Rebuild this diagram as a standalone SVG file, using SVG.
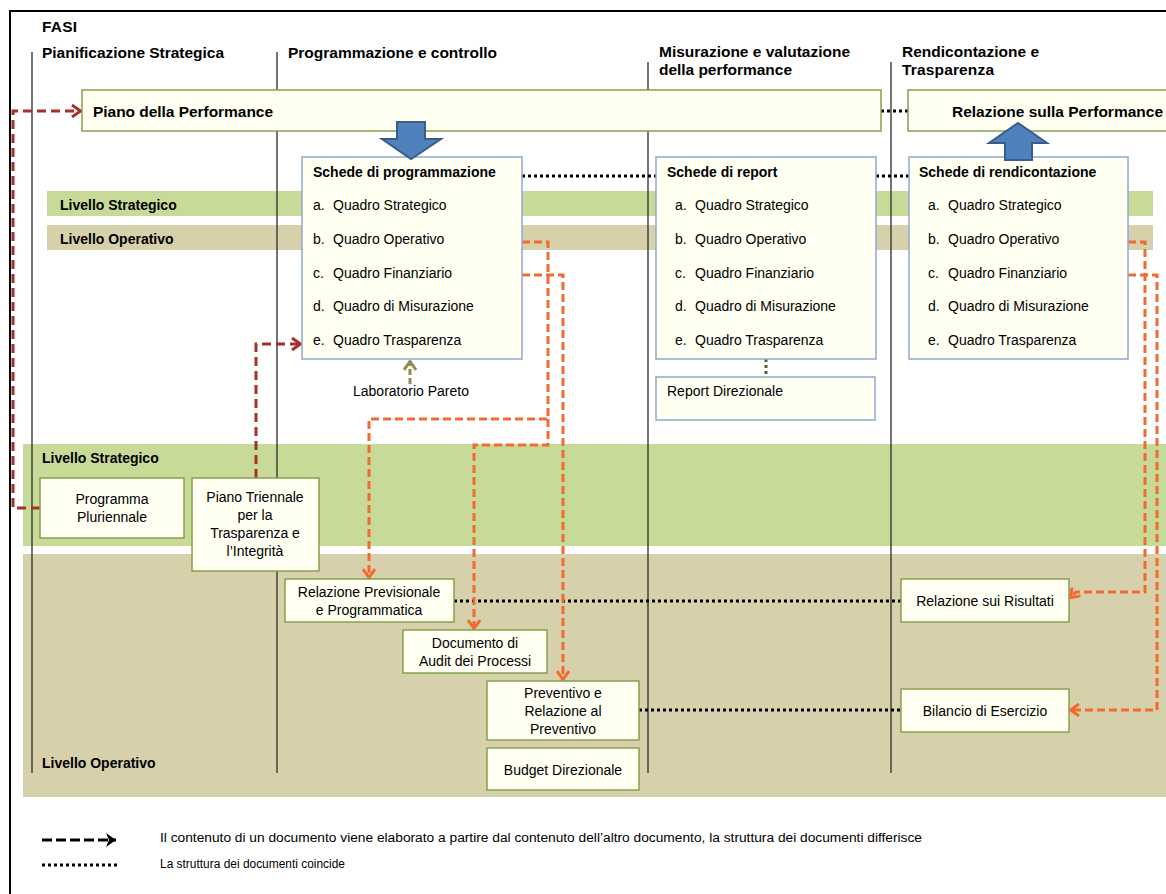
<svg xmlns="http://www.w3.org/2000/svg" width="1166" height="894" viewBox="0 0 1166 894">
  <style>
    .h { font-family: "Liberation Sans", Arial, sans-serif; font-weight: bold; font-size: 15.5px; fill: #000; }
    .b { font-family: "Liberation Sans", Arial, sans-serif; font-weight: bold; font-size: 14px; fill: #000; }
    .t { font-family: "Liberation Sans", Arial, sans-serif; font-size: 14px; fill: #000; }
    .c { text-anchor: middle; }
    .lg { font-family: "Liberation Sans", Arial, sans-serif; font-size: 12.5px; fill: #000; }
    .doc { fill: #FFFFF2; stroke: #86A04E; stroke-width: 1.5; }
    .card { fill: #FFFFF2; stroke: #8EA9D1; stroke-width: 1.5; }
    .phase { stroke: #2a2a2a; stroke-width: 1.3; }
    .dot { fill: none; stroke: #000; stroke-width: 3; stroke-dasharray: 3 3; }
    .red { fill: none; stroke: #A5312B; stroke-width: 3; stroke-dasharray: 9 5; }
    .ora { fill: none; stroke: #F26A30; stroke-width: 3; stroke-dasharray: 8 4; }
    .blk { fill: #4F81BD; stroke: #385D8A; stroke-width: 2; }
  </style>
  <defs>
    <marker id="ahRed" markerUnits="userSpaceOnUse" viewBox="0 0 12 14" refX="11" refY="7" markerWidth="12" markerHeight="14" orient="auto">
      <path d="M2,1 L10.5,7 L2,13" fill="none" stroke="#A5312B" stroke-width="3"/>
    </marker>
    <marker id="ahOra" markerUnits="userSpaceOnUse" viewBox="0 0 12 14" refX="11" refY="7" markerWidth="12" markerHeight="14" orient="auto">
      <path d="M2,1 L10.5,7 L2,13" fill="none" stroke="#F26A30" stroke-width="3"/>
    </marker>
    <marker id="ahKhaki" markerUnits="userSpaceOnUse" viewBox="0 0 12 14" refX="11" refY="7" markerWidth="12" markerHeight="14" orient="auto">
      <path d="M2,1 L10.5,7 L2,13" fill="none" stroke="#948A54" stroke-width="3"/>
    </marker>
    <marker id="ahBlack" markerUnits="userSpaceOnUse" viewBox="0 0 12 16" refX="11" refY="8" markerWidth="12" markerHeight="16" orient="auto">
      <path d="M1,1 L11,8 L1,15 L4,8 Z" fill="#000"/>
    </marker>
  </defs>

  <rect x="0" y="0" width="1166" height="894" fill="#fff"/>
  <!-- frame -->
  <rect x="10" y="11" width="1200" height="1000" fill="none" stroke="#000" stroke-width="2"/>

  <!-- level bands -->
  <g id="bands">
    <rect x="47" y="191" width="1106" height="25" fill="#C8DA98"/>
    <rect x="47" y="225" width="1106" height="25" fill="#D7D1AB"/>
    <rect x="23" y="444" width="1150" height="102" fill="#C8DA98"/>
    <rect x="23" y="554" width="1150" height="243" fill="#D7D1AB"/>
    <text class="b" x="60" y="210">Livello Strategico</text>
    <text class="b" x="60" y="244">Livello Operativo</text>
    <text class="b" x="42" y="463">Livello Strategico</text>
    <text class="b" x="42" y="768">Livello Operativo</text>
  </g>

  <!-- phase columns -->
  <g id="phases">
    <line class="phase" x1="32" y1="52" x2="32" y2="773"/>
    <line class="phase" x1="277" y1="52" x2="277" y2="773"/>
    <line class="phase" x1="648" y1="62" x2="648" y2="773"/>
    <line class="phase" x1="891" y1="62" x2="891" y2="773"/>
    <text class="h" x="42" y="32" textLength="35">FASI</text>
    <text class="h" x="42" y="58" textLength="182">Pianificazione Strategica</text>
    <text class="h" x="288" y="58" textLength="209">Programmazione e controllo</text>
    <text class="h" x="659" y="57" textLength="191">Misurazione e valutazione</text>
    <text class="h" x="659" y="75" textLength="133">della performance</text>
    <text class="h" x="902" y="57" textLength="137">Rendicontazione e</text>
    <text class="h" x="902" y="75" textLength="92">Trasparenza</text>
  </g>

  <!-- connectors -->
  <g id="connectors">
    <path class="dot" d="M881,111 H908"/>
    <path class="dot" d="M522,176 H656"/>
    <path class="dot" d="M876,176 H909"/>
    <path class="dot" d="M454,601 H901"/>
    <path class="dot" d="M639,710 H901"/>
    <path d="M766,359 V377" fill="none" stroke="#4F6228" stroke-width="3" stroke-dasharray="3 3"/>
    <path d="M410,384 V361" fill="none" stroke="#948A54" stroke-width="3" stroke-dasharray="6 3" marker-end="url(#ahKhaki)"/>
    <path class="red" d="M40,508 H13 V111 H81" marker-end="url(#ahRed)"/>
    <path class="red" d="M256,478 V344 H301" marker-end="url(#ahRed)"/>
    <path class="ora" d="M522,242 H548 V419 H369 V578" marker-end="url(#ahOra)"/>
    <path class="ora" d="M548,419 V445 H474 V629" marker-end="url(#ahOra)"/>
    <path class="ora" d="M522,275 H563 V680" marker-end="url(#ahOra)"/>
    <path class="ora" d="M1128,242 H1145 V592 H1076 L1070,598" marker-end="url(#ahOra)"/>
    <path class="ora" d="M1128,275 H1157 V710 H1070" marker-end="url(#ahOra)"/>
  </g>

  <!-- strategic documents -->
  <g id="piano-performance">
    <rect class="doc" x="82" y="90" width="799" height="41"/>
    <text class="h" x="93" y="117" textLength="180">Piano della Performance</text>
  </g>
  <g id="relazione-performance">
    <rect class="doc" x="908" y="90" width="280" height="41"/>
    <text class="h" x="952" y="117" textLength="211">Relazione sulla Performance</text>
  </g>

  <!-- cards -->
  <g id="schede-programmazione">
    <rect class="card" x="302" y="157" width="220" height="202"/>
    <text class="b" x="313" y="177">Schede di programmazione</text>
    <text class="t" x="313" y="210">a.</text><text class="t" x="333" y="210">Quadro Strategico</text>
    <text class="t" x="313" y="244">b.</text><text class="t" x="333" y="244">Quadro Operativo</text>
    <text class="t" x="313" y="278">c.</text><text class="t" x="333" y="278">Quadro Finanziario</text>
    <text class="t" x="313" y="311">d.</text><text class="t" x="333" y="311">Quadro di Misurazione</text>
    <text class="t" x="313" y="345">e.</text><text class="t" x="333" y="345">Quadro Trasparenza</text>
  </g>
  <g id="schede-report">
    <rect class="card" x="656" y="157" width="220" height="202"/>
    <text class="b" x="667" y="177">Schede di report</text>
    <text class="t" x="675" y="210">a.</text><text class="t" x="695" y="210">Quadro Strategico</text>
    <text class="t" x="675" y="244">b.</text><text class="t" x="695" y="244">Quadro Operativo</text>
    <text class="t" x="675" y="278">c.</text><text class="t" x="695" y="278">Quadro Finanziario</text>
    <text class="t" x="675" y="311">d.</text><text class="t" x="695" y="311">Quadro di Misurazione</text>
    <text class="t" x="675" y="345">e.</text><text class="t" x="695" y="345">Quadro Trasparenza</text>
  </g>
  <g id="schede-rendicontazione">
    <rect class="card" x="909" y="157" width="219" height="202"/>
    <text class="b" x="919" y="177">Schede di rendicontazione</text>
    <text class="t" x="928" y="210">a.</text><text class="t" x="948" y="210">Quadro Strategico</text>
    <text class="t" x="928" y="244">b.</text><text class="t" x="948" y="244">Quadro Operativo</text>
    <text class="t" x="928" y="278">c.</text><text class="t" x="948" y="278">Quadro Finanziario</text>
    <text class="t" x="928" y="311">d.</text><text class="t" x="948" y="311">Quadro di Misurazione</text>
    <text class="t" x="928" y="345">e.</text><text class="t" x="948" y="345">Quadro Trasparenza</text>
  </g>
  <g id="report-direzionale">
    <rect class="card" x="656" y="377" width="219" height="43"/>
    <text class="t" x="667" y="396">Report Direzionale</text>
  </g>
  <g id="laboratorio-pareto">
    <text class="t c" x="411" y="396">Laboratorio Pareto</text>
  </g>

  <!-- block arrows -->
  <g id="arrow-down">
    <path class="blk" d="M397,122 H425 V139 H441 L411,159 L382,139 H397 Z"/>
  </g>
  <g id="arrow-up">
    <path class="blk" d="M1005,160 V143 H989 L1018,123 L1047,143 H1032 V160 Z"/>
  </g>

  <!-- documents -->
  <g id="programma-pluriennale">
    <rect class="doc" x="40" y="478" width="144" height="60"/>
    <text class="t c" x="112" y="504">Programma</text>
    <text class="t c" x="112" y="522">Pluriennale</text>
  </g>
  <g id="piano-triennale">
    <rect class="doc" x="192" y="478" width="127" height="93"/>
    <text class="t c" x="255" y="502">Piano Triennale</text>
    <text class="t c" x="255" y="520">per la</text>
    <text class="t c" x="255" y="538">Trasparenza e</text>
    <text class="t c" x="255" y="556">l’Integrità</text>
  </g>
  <g id="relazione-previsionale">
    <rect class="doc" x="285" y="579" width="169" height="43"/>
    <text class="t c" x="369" y="597">Relazione Previsionale</text>
    <text class="t c" x="369" y="615">e Programmatica</text>
  </g>
  <g id="documento-audit">
    <rect class="doc" x="403" y="630" width="144" height="43"/>
    <text class="t c" x="475" y="648">Documento di</text>
    <text class="t c" x="475" y="666">Audit dei Processi</text>
  </g>
  <g id="preventivo">
    <rect class="doc" x="487" y="681" width="152" height="59"/>
    <text class="t c" x="563" y="698">Preventivo e</text>
    <text class="t c" x="563" y="716">Relazione al</text>
    <text class="t c" x="563" y="734">Preventivo</text>
  </g>
  <g id="budget-direzionale">
    <rect class="doc" x="487" y="748" width="152" height="42"/>
    <text class="t c" x="563" y="775">Budget Direzionale</text>
  </g>
  <g id="relazione-risultati">
    <rect class="doc" x="901" y="579" width="168" height="43"/>
    <text class="t c" x="985" y="606">Relazione sui Risultati</text>
  </g>
  <g id="bilancio-esercizio">
    <rect class="doc" x="901" y="689" width="168" height="43"/>
    <text class="t c" x="985" y="716">Bilancio di Esercizio</text>
  </g>

  <!-- legend -->
  <g id="legend">
    <path d="M42,840 H116" fill="none" stroke="#000" stroke-width="3" stroke-dasharray="10 4" marker-end="url(#ahBlack)"/>
    <path class="dot" d="M42,865 H117" stroke-width="2.5" stroke-dasharray="2.5 2.5"/>
    <text class="lg" x="160" y="842" textLength="762" lengthAdjust="spacingAndGlyphs">Il contenuto di un documento viene elaborato a partire dal contenuto dell’altro documento, la struttura dei documenti differisce</text>
    <text class="lg" x="160" y="868" textLength="185" lengthAdjust="spacingAndGlyphs">La struttura dei documenti coincide</text>
  </g>
</svg>
